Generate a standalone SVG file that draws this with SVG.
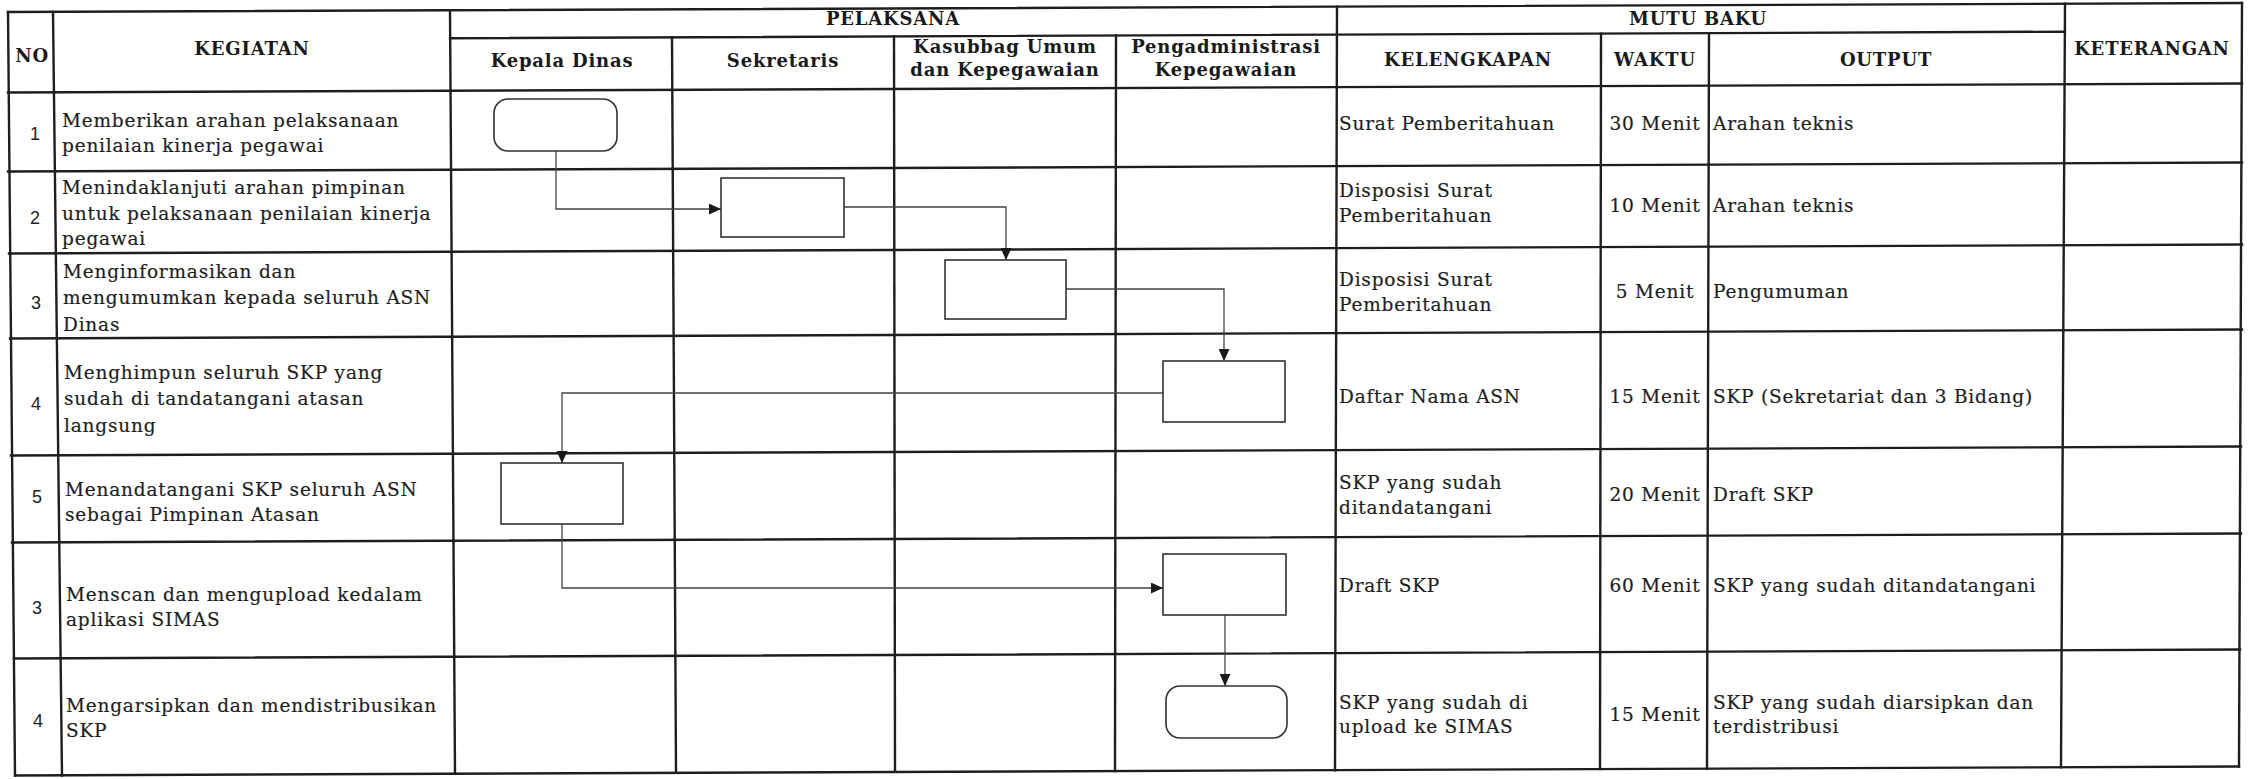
<svg xmlns="http://www.w3.org/2000/svg" width="2249" height="779" viewBox="0 0 2249 779">
<defs>
<marker id="arr" markerWidth="12" markerHeight="11" refX="12" refY="5.5" orient="auto" markerUnits="userSpaceOnUse"><path d="M0,0 L12,5.5 L0,11 z" fill="#1a1a1a"/></marker>
<style>
.grid line{stroke:#1e1e1e;stroke-width:2.4;stroke-linecap:square}
.t{font-family:"DejaVu Serif",serif;font-size:18.5px;fill:#1e1e1e;letter-spacing:0.8px;stroke:#1e1e1e;stroke-width:0.2}
.h{font-family:"DejaVu Serif",serif;font-size:18px;font-weight:bold;fill:#1a1a1a;letter-spacing:0.8px;text-anchor:middle}
.n{font-family:"Liberation Sans",Arial,sans-serif;font-size:18px;fill:#222;text-anchor:middle}
.c{text-anchor:middle}
.box{fill:#fff;stroke:#333;stroke-width:1.6}
.conn path{fill:none;stroke:#444;stroke-width:1.3;marker-end:url(#arr)}
</style>
</defs>
<rect width="2249" height="779" fill="#fff"/>
<g id="table" class="grid">
<line x1="8" y1="12" x2="2242" y2="3"/>
<line x1="450" y1="38.2" x2="2065" y2="31.7"/>
<line x1="8" y1="92.5" x2="2242" y2="83.5"/>
<line x1="8" y1="171.5" x2="2242" y2="162.5"/>
<line x1="9" y1="253.5" x2="2242" y2="244.5"/>
<line x1="10" y1="338.5" x2="2242" y2="329.5"/>
<line x1="11" y1="455.5" x2="2241" y2="446.5"/>
<line x1="12" y1="542.5" x2="2241" y2="533.5"/>
<line x1="14" y1="658.5" x2="2240" y2="649.5"/>
<line x1="15" y1="775.5" x2="2239" y2="766.5"/>
<line x1="8" y1="12" x2="15" y2="775.5"/>
<line x1="53" y1="12" x2="62" y2="775.5"/>
<line x1="450" y1="10.2" x2="455" y2="773.7"/>
<line x1="672" y1="37.3" x2="676" y2="772.8"/>
<line x1="894" y1="36.4" x2="895" y2="771.9"/>
<line x1="1116" y1="35.5" x2="1115" y2="771"/>
<line x1="1337" y1="6.6" x2="1335" y2="770.2"/>
<line x1="1601" y1="33.6" x2="1600" y2="769.1"/>
<line x1="1709" y1="33.2" x2="1707" y2="768.7"/>
<line x1="2065" y1="3.7" x2="2061" y2="767.3"/>
<line x1="2242" y1="3" x2="2239" y2="766.5"/>
</g>
<g id="headers">
<text class="h" x="32" y="62">NO</text>
<text class="h" x="252" y="55">KEGIATAN</text>
<text class="h" x="893" y="25">PELAKSANA</text>
<text class="h" x="562" y="67">Kepala Dinas</text>
<text class="h" x="783" y="67">Sekretaris</text>
<text class="h" x="1005" y="53">Kasubbag Umum</text>
<text class="h" x="1005" y="76">dan Kepegawaian</text>
<text class="h" x="1226" y="53">Pengadministrasi</text>
<text class="h" x="1226" y="76">Kepegawaian</text>
<text class="h" x="1698" y="25">MUTU BAKU</text>
<text class="h" x="1468" y="66">KELENGKAPAN</text>
<text class="h" x="1655" y="66">WAKTU</text>
<text class="h" x="1886" y="66">OUTPUT</text>
<text class="h" x="2152" y="55">KETERANGAN</text>
</g>
<g id="numbers">
<text class="n" x="35" y="140">1</text>
<text class="n" x="35" y="224">2</text>
<text class="n" x="36" y="309">3</text>
<text class="n" x="36" y="410">4</text>
<text class="n" x="37" y="503">5</text>
<text class="n" x="37" y="614">3</text>
<text class="n" x="38" y="727">4</text>
</g>
<g id="kegiatan">
<text class="t" x="62" y="127">Memberikan arahan pelaksanaan</text>
<text class="t" x="62" y="152">penilaian kinerja pegawai</text>
<text class="t" x="62" y="194">Menindaklanjuti arahan pimpinan</text>
<text class="t" x="62" y="220">untuk pelaksanaan penilaian kinerja</text>
<text class="t" x="62" y="245">pegawai</text>
<text class="t" x="63" y="278">Menginformasikan dan</text>
<text class="t" x="63" y="304">mengumumkan kepada seluruh ASN</text>
<text class="t" x="63" y="331">Dinas</text>
<text class="t" x="64" y="379">Menghimpun seluruh SKP yang</text>
<text class="t" x="64" y="405">sudah di tandatangani atasan</text>
<text class="t" x="64" y="432">langsung</text>
<text class="t" x="65" y="496">Menandatangani SKP seluruh ASN</text>
<text class="t" x="65" y="521">sebagai Pimpinan Atasan</text>
<text class="t" x="66" y="601">Menscan dan mengupload kedalam</text>
<text class="t" x="66" y="626">aplikasi SIMAS</text>
<text class="t" x="66" y="712">Mengarsipkan dan mendistribusikan</text>
<text class="t" x="66" y="737">SKP</text>
</g>
<g id="mutu">
<text class="t" x="1339" y="130">Surat Pemberitahuan</text>
<text class="t c" x="1655" y="130">30 Menit</text>
<text class="t" x="1713" y="130">Arahan teknis</text>
<text class="t" x="1339" y="197">Disposisi Surat</text>
<text class="t" x="1339" y="222">Pemberitahuan</text>
<text class="t c" x="1655" y="212">10 Menit</text>
<text class="t" x="1713" y="212">Arahan teknis</text>
<text class="t" x="1339" y="286">Disposisi Surat</text>
<text class="t" x="1339" y="311">Pemberitahuan</text>
<text class="t c" x="1655" y="298">5 Menit</text>
<text class="t" x="1713" y="298">Pengumuman</text>
<text class="t" x="1339" y="403">Daftar Nama ASN</text>
<text class="t c" x="1655" y="403">15 Menit</text>
<text class="t" x="1713" y="403">SKP (Sekretariat dan 3 Bidang)</text>
<text class="t" x="1339" y="489">SKP yang sudah</text>
<text class="t" x="1339" y="514">ditandatangani</text>
<text class="t c" x="1655" y="501">20 Menit</text>
<text class="t" x="1713" y="501">Draft SKP</text>
<text class="t" x="1339" y="592">Draft SKP</text>
<text class="t c" x="1655" y="592">60 Menit</text>
<text class="t" x="1713" y="592">SKP yang sudah ditandatangani</text>
<text class="t" x="1339" y="709">SKP yang sudah di</text>
<text class="t" x="1339" y="733">upload ke SIMAS</text>
<text class="t c" x="1655" y="721">15 Menit</text>
<text class="t" x="1713" y="709">SKP yang sudah diarsipkan dan</text>
<text class="t" x="1713" y="733">terdistribusi</text>
</g>
<g id="connectors" class="conn">
<path d="M556,151 V209 H721"/>
<path d="M844,207 H1006 V260"/>
<path d="M1066,289 H1224 V361"/>
<path d="M1163,393 H562 V463"/>
<path d="M562,524 V588 H1163"/>
<path d="M1225,615 V686"/>
</g>
<g id="node-start"><rect class="box" x="494" y="99" width="123" height="52" rx="14"/></g>
<g id="node-sekretaris"><rect class="box" x="721" y="178" width="123" height="59"/></g>
<g id="node-kasubbag"><rect class="box" x="945" y="260" width="121" height="59"/></g>
<g id="node-pengadmin-1"><rect class="box" x="1163" y="361" width="122" height="61"/></g>
<g id="node-kepala-ttd"><rect class="box" x="501" y="463" width="122" height="61"/></g>
<g id="node-pengadmin-2"><rect class="box" x="1163" y="554" width="123" height="61"/></g>
<g id="node-end"><rect class="box" x="1166" y="686" width="121" height="52" rx="14"/></g>
</svg>
